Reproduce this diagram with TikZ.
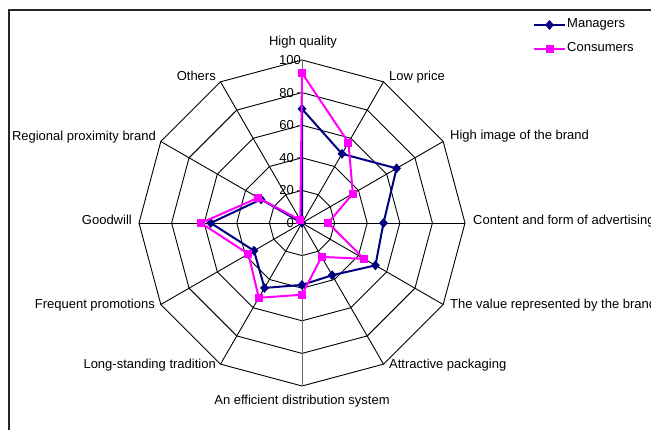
\documentclass[tikz,border=0pt]{standalone}
\usepackage{fontspec}
\setmainfont{Liberation Sans}
\usetikzlibrary{shapes.geometric}
\definecolor{mgrcol}{RGB}{0,0,128}
\definecolor{concol}{RGB}{255,0,255}
\tikzset{
  grid/.style={draw=black, line width=0.9pt},
  vaxis/.style={draw=black!60, line width=1pt},
  mgrline/.style={draw=mgrcol, line width=2pt, line join=round},
  conline/.style={draw=concol, line width=2pt, line join=round},
  mgrmark/.style={diamond, fill=mgrcol, inner sep=0pt, minimum width=9pt, minimum height=10pt},
  conmark/.style={rectangle, fill=concol, inner sep=0pt, minimum size=8pt},
  lbl/.style={inner sep=0pt, font=\fontsize{13}{15}\selectfont, text height=9.5pt, text depth=2.5pt},
  tick/.style={inner sep=0pt, font=\fontsize{13}{15}\selectfont, anchor=east}
}
\begin{document}
\begin{tikzpicture}[x=1pt,y=1pt]
\useasboundingbox (0,0) rectangle (651,430);
\clip (0,0) rectangle (651,430);
\fill[white] (0,0) rectangle (651,430);
% frame
\draw[line width=1.2pt, black!85] (9,-5) -- (9,420) -- (660,420);
\begin{scope}[shift={(302,207)}]
  \coordinate (C) at (0,0);
  % rings
  \foreach \r in {20,40,60,80,100} {
    \draw[grid] (90:\r*1.63) \foreach \a in {60,30,...,-240} { -- (\a:\r*1.63) } -- cycle;
  }
  % spokes
  \foreach \a in {60,30,0,-30,-60,-120,-150,-180,-210,-240} {
    \draw[grid] (C) -- (\a:163);
  }
  \draw[vaxis] (C) -- (90:163);
  \draw[vaxis] (C) -- (-90:163);
  % ticks and tick labels
  \foreach \v/\dx in {0/-8,20/-8,40/-8,60/-8,80/-8,100/-1} {
    \draw[black!60, line width=0.9pt] (-5,\v*1.63) -- (0,\v*1.63);
    \node[tick] (t\v) at (\dx,\v*1.63) {\v};
  }
  % managers
  \foreach \i/\v in {0/70,1/49,2/67,3/50,4/52,5/37,6/38,7/46,8/34,9/56,10/29,11/0} {
    \coordinate (m\i) at ({90-30*\i}:{\v*1.63});
  }
  \draw[mgrline] (m0) -- (m1) -- (m2) -- (m3) -- (m4) -- (m5) -- (m6) -- (m7) -- (m8) -- (m9) -- (m10) -- (m11) -- cycle;
  \foreach \i in {0,...,11} { \node[mgrmark] (mm\i) at (m\i) {}; }
  % consumers
  \foreach \i/\v in {0/92,1/57,2/36,3/16,4/44,5/24,6/44,7/53,8/38,9/62,10/31,11/2} {
    \coordinate (c\i) at ({90-30*\i}:{\v*1.63});
  }
  \draw[conline] (c0) -- (c1) -- (c2) -- (c3) -- (c4) -- (c5) -- (c6) -- (c7) -- (c8) -- (c9) -- (c10) -- (c11) -- cycle;
  \foreach \i in {0,...,11} { \node[conmark] (cm\i) at (c\i) {}; }
\end{scope}
% axis labels
\node[lbl, anchor=center] (l0) at (303,388) {High quality};
\node[lbl, anchor=west] (l1) at (389,353) {Low price};
\node[lbl, anchor=west] (l2) at (450,294) {High image of the brand};
\node[lbl, anchor=west] (l3) at (473,209) {Content and form of advertising};
\node[lbl, anchor=west] (l4) at (450,125) {The value represented by the brand};
\node[lbl, anchor=west] (l5) at (389,65) {Attractive packaging};
\node[lbl, anchor=center] (l6) at (302,29) {An efficient distribution system};
\node[lbl, anchor=east] (l7) at (216,65) {Long-standing tradition};
\node[lbl, anchor=east] (l8) at (155,125) {Frequent promotions};
\node[lbl, anchor=east] (l9) at (132,209) {Goodwill};
\node[lbl, anchor=east] (l10) at (156,293) {Regional proximity brand};
\node[lbl, anchor=east] (l11) at (216,353) {Others};
% legend
\coordinate (lm1) at (534,405);
\coordinate (lm2) at (565,405);
\draw[mgrline] (lm1) -- (lm2);
\node[mgrmark] (lmk) at (549.5,405) {};
\node[lbl, anchor=west] (lmt) at (567,406) {Managers};
\coordinate (lc1) at (534,381);
\coordinate (lc2) at (565,381);
\draw[conline] (lc1) -- (lc2);
\node[conmark] (lck) at (549.5,381) {};
\node[lbl, anchor=west] (lct) at (567,382) {Consumers};
\end{tikzpicture}
\end{document}
